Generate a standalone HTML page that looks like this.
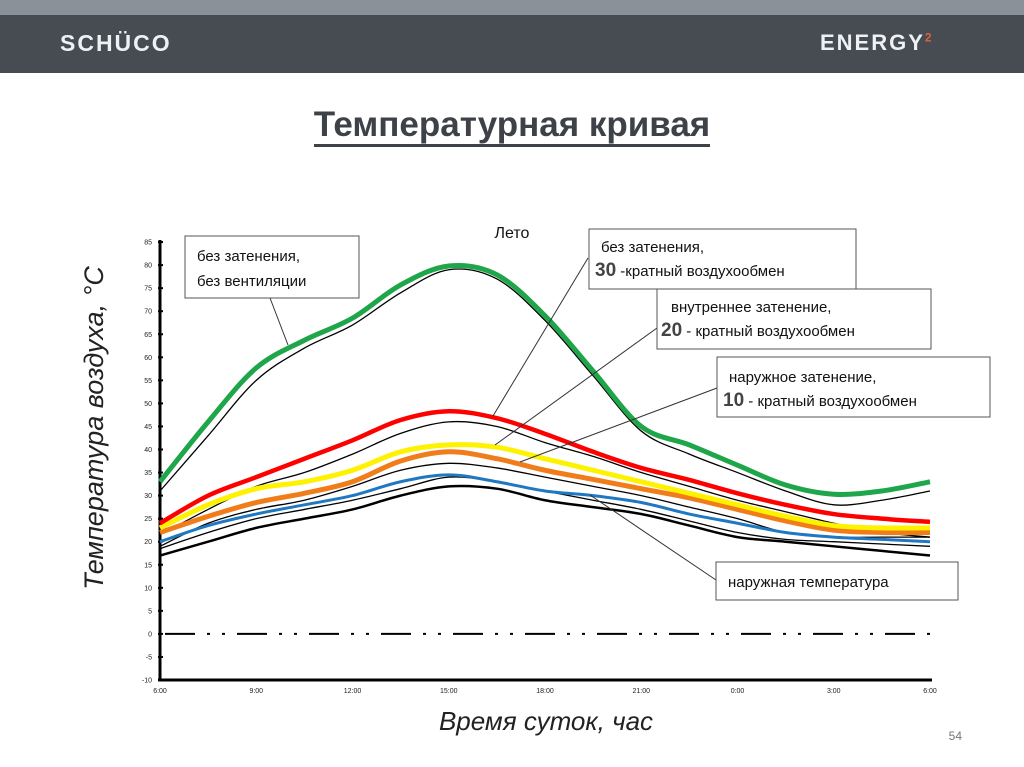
<!DOCTYPE html>
<html><head><meta charset="utf-8">
<style>
body{margin:0;width:1024px;height:767px;background:#fff;overflow:hidden;font-family:"Liberation Sans",sans-serif}
#hdr1{position:absolute;left:0;top:0;width:1024px;height:15px;background:#8b9198}
#hdr2{position:absolute;left:0;top:15px;width:1024px;height:58px;background:#474b52}
.logo{position:absolute;color:#eef0f2;font-weight:bold;font-size:23px;letter-spacing:2px;top:30px}
#title{position:absolute;left:0;width:1024px;top:105px;text-align:center;font-size:35px;font-weight:bold;color:#3d4148;font-family:"Liberation Sans Narrow","Liberation Sans",sans-serif}
#title span{border-bottom:3px solid #3d4148;padding-bottom:0}
svg{position:absolute;left:0;top:0}
</style></head><body>
<div id="hdr1"></div>
<div id="hdr2"></div>
<div class="logo" style="left:60px">SCHÜCO</div>
<div class="logo" style="left:820px;font-size:22px">ENERGY<sup style="color:#d9643a;font-size:12px">2</sup></div>
<div id="title"><span>Температурная кривая</span></div>
<svg id="chart" width="1024" height="767"></svg>
<script>
const hours=[0,1.5,3,4.5,6,7.5,9,10.5,12,13.5,15,16.5,18,19.5,21,22.5,24];
const xTickLabels=["6:00","9:00","12:00","15:00","18:00","21:00","0:00","3:00","6:00"];
const yTicks=[85,80,75,70,65,60,55,50,45,40,35,30,25,20,15,10,5,0,-5,-10];
const noShadeNoVent=[33,46,57.7,63.7,68.5,75.7,79.8,77.9,69,57,45,41,36.6,32.3,30.3,31,33];
const noShadeNoVentThin=[31,43,55,62,67,74,79,77,68,56,44,39,35,31,28,29,31];
const noShade30=[24,30,34,38,42,46.4,48.3,46.8,43.4,39.5,36,33.4,30.5,28,26,25,24.3];
const thinA=[21.5,27,32,35,39,43.5,46,45,41.5,38.5,35,32,29,26.5,24,22,21];
const inner20=[23,28,31.5,33,35.5,39.5,41,40.5,38,35.5,33,30.5,28,25.5,23.5,23,23];
const thinB=[19,24,27,29,32,35.5,37,36,34,32,30,27.5,25,22,21,21,21];
const outer10=[22,25.5,28.5,30.5,33,37.5,39.5,38,35.5,33.5,31.5,29.5,27,24.5,22.5,22,22];
const thinC=[18.5,22,25,27,29,31.5,34,33,31,29,27,24.5,22,20.5,20,19.5,19];
const blue=[20,23.5,26,28,30,33,34.5,33,31,30,28.5,26,24,22,21,20.5,20];
const outside=[17,20,23,25,27,30,32,31.5,29,27.5,26,23.5,21,20,19,18,17];

const X=h=>160+h*(770/24);
const Y=v=>680-(v+10)*4.61;
const svg=document.getElementById('chart');
const NS='http://www.w3.org/2000/svg';
function mk(tag,attrs){const e=document.createElementNS(NS,tag);for(const k in attrs)e.setAttribute(k,attrs[k]);svg.appendChild(e);return e;}
function pathFor(vals){
  const p=vals.map((v,i)=>[X(hours[i]),Y(v)]);
  let d='M'+p[0][0]+','+p[0][1];
  for(let i=0;i<p.length-1;i++){
    const p0=p[Math.max(0,i-1)],p1=p[i],p2=p[i+1],p3=p[Math.min(p.length-1,i+2)];
    const c1=[p1[0]+(p2[0]-p0[0])/6,p1[1]+(p2[1]-p0[1])/6];
    const c2=[p2[0]-(p3[0]-p1[0])/6,p2[1]-(p3[1]-p1[1])/6];
    d+=' C'+c1+' '+c2+' '+p2;
  }
  return d;
}
let e;
e=mk('line',{x1:160,y1:240,x2:160,y2:681,stroke:'#000','stroke-width':3});


e=mk('line',{x1:158,y1:680,x2:932,y2:680,stroke:'#000','stroke-width':3});


yTicks.forEach(v=>{
  const t=mk('text',{x:152,y:Y(v)+2.5,'font-size':7,'text-anchor':'end',fill:'#222'});
  t.textContent=v;
  
  
  mk('line',{x1:158,y1:Y(v),x2:163,y2:Y(v),stroke:'#000','stroke-width':2});
});
xTickLabels.forEach((l,i)=>{
  const t=mk('text',{x:X(i*3),y:693,'font-size':7,'text-anchor':'middle',fill:'#222'});
  t.textContent=l;
  
  
});
e=mk('line',{x1:165,y1:Y(0),x2:930,y2:Y(0),stroke:'#000','stroke-width':2,'stroke-dasharray':'30 12 3 12 3 12'});


const series=[
 [thinA,'#000',1.3,'thin-line-a'],[thinB,'#000',1.3,'thin-line-b'],[thinC,'#000',1.3,'thin-line-c'],
 [noShadeNoVentThin,'#000',1.3,'no-shade-no-vent-thin'],
 [outside,'#000',2.5,'outside-temperature-line'],
 [blue,'#1f78c1',3,'blue-line'],
 [outer10,'#f07d1a',5,'outer-shade-10x-line'],
 [inner20,'#fff200',5,'inner-shade-20x-line'],
 [noShade30,'#f00',4.5,'no-shade-30x-line'],
 [noShadeNoVent,'#1fa64a',5,'no-shade-no-vent-line']];
series.forEach(s=>{
  const p=mk('path',{d:pathFor(s[0]),fill:'none',stroke:s[1],'stroke-width':s[2],'stroke-linejoin':'round'});
  
  
});
[[270,298,288,345],[588,258,493,416],[657,328,495,445],[717,388,520,462],[716,580,590,495]].forEach(l=>{
  const ln=mk('line',{x1:l[0],y1:l[1],x2:l[2],y2:l[3],stroke:'#333','stroke-width':1});
  
  
});
function box(x,y,w,h,lines,name){
  const r=mk('rect',{x:x,y:y,width:w,height:h,fill:'#fff',stroke:'#555','stroke-width':1});
  
  
  lines.forEach((ln,i)=>{
    const t=mk('text',{x:x+ln[0],y:y+ln[1],'font-size':15,fill:'#111'});
    t.innerHTML=ln[2];
    
    
  });
}
box(185,236,174,62,[[12,25,'без затенения,'],[12,50,'без вентиляции']],'label-no-shade-no-vent');
box(589,229,267,60,[[12,23,'без затенения,'],[6,47,'<tspan font-weight="bold" font-size="19" fill="#444">30</tspan> -кратный воздухообмен']],'label-no-shade-30x');
box(657,289,274,60,[[14,23,'внутреннее затенение,'],[4,47,'<tspan font-weight="bold" font-size="19" fill="#444">20</tspan> - кратный воздухообмен']],'label-inner-shade-20x');
box(717,357,273,60,[[12,25,'наружное затенение,'],[6,49,'<tspan font-weight="bold" font-size="19" fill="#444">10</tspan> - кратный воздухообмен']],'label-outer-shade-10x');
box(716,562,242,38,[[12,25,'наружная температура']],'label-outside-temp');
e=mk('text',{x:512,y:238,'font-size':16,'text-anchor':'middle',fill:'#111'});
e.textContent='Лето';


e=mk('text',{x:546,y:730,'font-size':26,'font-style':'italic','text-anchor':'middle',fill:'#222'});
e.textContent='Время суток, час';


e=mk('text',{x:0,y:0,'font-size':27,'font-style':'italic','text-anchor':'middle',fill:'#222',transform:'translate(103,428) rotate(-90)'});
e.textContent='Температура воздуха, °С';


e=mk('text',{x:962,y:740,'font-size':12,'text-anchor':'end',fill:'#777'});
e.textContent='54';


</script>
</body></html>
